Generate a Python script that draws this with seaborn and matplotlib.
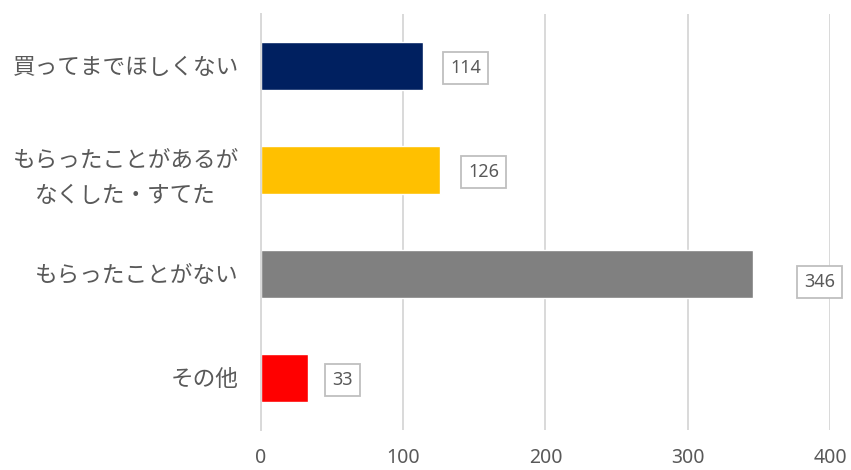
import matplotlib
matplotlib.use("Agg")
import pandas as pd
import seaborn as sns
import matplotlib.pyplot as plt
from matplotlib.ticker import FixedLocator

# data
categories = ["買ってまでほしくない", "もらったことがあるが\nなくした・すてた", "もらったことがない", "その他"]
counts = [114, 126, 346, 33]
bar_colors = ["#002060", "#FFC000", "#808080", "#FF0000"]
x_ticks = [0, 100, 200, 300, 400]

# label offsets in pixels (dx, dy) -- hand placed like the original
label_offsets = [(27, -2), (28, -2), (51, -8), (24, -2)]

sns.set_style("white")
plt.rcParams["font.family"] = ["Noto Sans", "Noto Sans CJK JP", "DejaVu Sans"]

df = pd.DataFrame({"cat": categories, "n": counts})

fig = plt.figure(figsize=(8.51, 4.70), dpi=100)
ax = fig.add_axes([0.3067, 0.0851, 0.6686, 0.8851])

sns.barplot(data=df, x="n", y="cat", hue="cat", palette=bar_colors,
            orient="h", width=0.46, legend=False, ax=ax, saturation=1)

ax.set_xlim(0, 400)
ax.set_ylim(3.5, -0.5)
ax.set_xticks(x_ticks)
ax.set_xlabel("")
ax.set_ylabel("")

txt = "#595959"
grid_c = "#D9D9D9"

ax.grid(axis="x", color=grid_c, linewidth=1.4)
ax.set_axisbelow(True)
for s in ["top", "right", "bottom"]:
    ax.spines[s].set_visible(False)
ax.spines["left"].set_color(grid_c)
ax.spines["left"].set_linewidth(1.4)

ax.tick_params(axis="x", length=0, pad=13, labelsize=14, labelcolor=txt)
ax.tick_params(axis="y", which="major", length=0, pad=16, labelsize=16.3, labelcolor=txt)
ax.yaxis.set_minor_locator(FixedLocator([-0.5, 0.5, 1.5, 2.5, 3.5]))
ax.tick_params(axis="y", which="minor", length=5, width=1.4, color=grid_c)
for lab in ax.get_yticklabels():
    lab.set_multialignment("center")
    lab.set_linespacing(1.85)

for i, (v, off) in enumerate(zip(counts, label_offsets)):
    ax.annotate(str(v), xy=(v, i), xytext=off, textcoords="offset pixels",
                ha="left", va="center", fontsize=13, color=txt,
                annotation_clip=False,
                bbox=dict(boxstyle="square,pad=0.4", fc="white", ec="#BFBFBF", lw=1.3))

fig.savefig("out.png", dpi=100)
